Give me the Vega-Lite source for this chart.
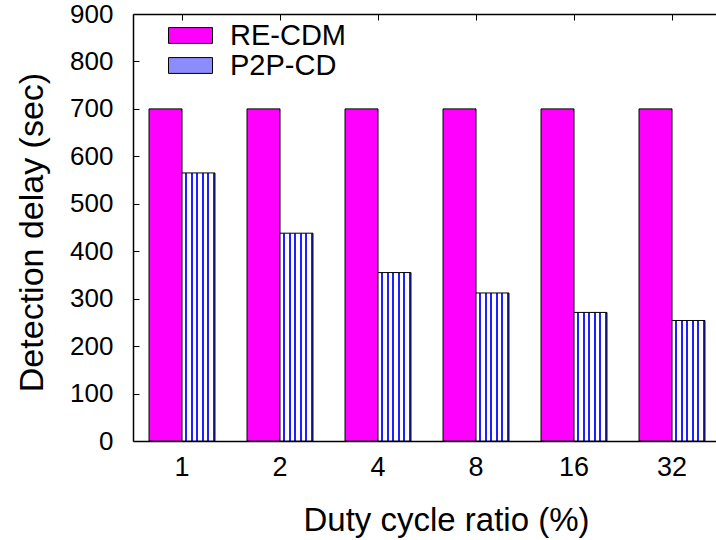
{
  "$schema": "https://vega.github.io/schema/vega-lite/v6.json",
  "autosize": {"type": "none"},
  "padding": {"left": 133, "top": 14, "right": 0, "bottom": 99},
  "width": 583,
  "height": 427,
  "background": "white",
  "config": {
    "font": "Liberation Sans",
    "view": {"stroke": null},
    "axis": {"grid": false, "domainColor": "black", "domainWidth": 1.5, "tickColor": "black", "tickWidth": 1, "labelColor": "black", "titleColor": "black", "labelFont": "Liberation Sans", "titleFont": "Liberation Sans", "titleFontWeight": "normal"}
  },
  "data": {
    "values": [
      {"ratio": "1", "series": "RE-CDM", "delay": 700},
      {"ratio": "1", "series": "P2P-CD", "delay": 565},
      {"ratio": "2", "series": "RE-CDM", "delay": 700},
      {"ratio": "2", "series": "P2P-CD", "delay": 438},
      {"ratio": "4", "series": "RE-CDM", "delay": 700},
      {"ratio": "4", "series": "P2P-CD", "delay": 355},
      {"ratio": "8", "series": "RE-CDM", "delay": 700},
      {"ratio": "8", "series": "P2P-CD", "delay": 312},
      {"ratio": "16", "series": "RE-CDM", "delay": 700},
      {"ratio": "16", "series": "P2P-CD", "delay": 271},
      {"ratio": "32", "series": "RE-CDM", "delay": 700},
      {"ratio": "32", "series": "P2P-CD", "delay": 254}
    ]
  },
  "encoding": {
    "x": {
      "field": "ratio",
      "type": "nominal",
      "sort": ["1", "2", "4", "8", "16", "32"],
      "scale": {"range": [0, 588], "paddingInner": 0.327, "paddingOuter": 0.1635},
      "axis": {
        "orient": "bottom",
        "title": "Duty cycle ratio (%)",
        "titleFontSize": 33,
        "titleX": 313,
        "titleY": 89,
        "titleAlign": "center",
        "titleBaseline": "alphabetic",
        "labelAngle": 0,
        "labelFontSize": 27,
        "labelPadding": 13,
        "ticks": false
      }
    },
    "y": {
      "field": "delay",
      "type": "quantitative",
      "scale": {"domain": [0, 900], "nice": false},
      "axis": {
        "title": "Detection delay (sec)",
        "titleFontSize": 34,
        "titleAngle": -90,
        "titleX": -91,
        "titleY": 218,
        "titleAlign": "center",
        "titleBaseline": "alphabetic",
        "values": [0, 100, 200, 300, 400, 500, 600, 700, 800, 900],
        "labelFontSize": 26,
        "tickSize": -6,
        "labelPadding": 26
      }
    }
  },
  "layer": [
    {
      "mark": {"type": "bar", "stroke": "black", "strokeWidth": 1},
      "encoding": {
        "xOffset": {"field": "series", "type": "nominal", "sort": ["RE-CDM", "P2P-CD"], "scale": {"paddingInner": 0, "paddingOuter": 0}},
        "fill": {
          "condition": {
            "test": "datum.series === 'P2P-CD'",
            "value": {
              "gradient": "linear", "x1": 0, "y1": 0, "x2": 1, "y2": 0,
              "stops": [
                {"offset": 0, "color": "white"}, {"offset": 0.1, "color": "white"}, {"offset": 0.1, "color": "#2020ff"}, {"offset": 0.1667, "color": "#2020ff"},
                {"offset": 0.1667, "color": "white"}, {"offset": 0.2667, "color": "white"}, {"offset": 0.2667, "color": "#2020ff"}, {"offset": 0.3333, "color": "#2020ff"},
                {"offset": 0.3333, "color": "white"}, {"offset": 0.4333, "color": "white"}, {"offset": 0.4333, "color": "#2020ff"}, {"offset": 0.5, "color": "#2020ff"},
                {"offset": 0.5, "color": "white"}, {"offset": 0.6, "color": "white"}, {"offset": 0.6, "color": "#2020ff"}, {"offset": 0.6667, "color": "#2020ff"},
                {"offset": 0.6667, "color": "white"}, {"offset": 0.7667, "color": "white"}, {"offset": 0.7667, "color": "#2020ff"}, {"offset": 0.8333, "color": "#2020ff"},
                {"offset": 0.8333, "color": "white"}, {"offset": 0.9333, "color": "white"}, {"offset": 0.9333, "color": "#2020ff"}, {"offset": 1, "color": "#2020ff"}
              ]
            }
          },
          "field": "series",
          "type": "nominal",
          "scale": {"domain": ["RE-CDM", "P2P-CD"], "range": ["#ff00ff", "#8c8cff"]},
          "legend": {
            "title": null,
            "orient": "none",
            "legendX": 35,
            "legendY": 7,
            "symbolType": "M-1,-0.36H1V0.36H-1Z",
            "symbolSize": 1936,
            "symbolStrokeColor": "black",
            "symbolStrokeWidth": 1,
            "labelFontSize": 29,
            "labelColor": "black",
            "labelFont": "Liberation Sans",
            "labelOffset": 17,
            "clipHeight": 29,
            "rowPadding": 0
          }
        }
      }
    },
    {
      "mark": {"type": "rule", "opacity": 0},
      "encoding": {
        "x": {
          "field": "ratio",
          "type": "nominal",
          "sort": ["1", "2", "4", "8", "16", "32"],
          "axis": {"orient": "top", "labels": false, "title": null, "tickSize": -6, "domain": true}
        }
      }
    }
  ],
  "resolve": {"axis": {"x": "independent"}}
}
